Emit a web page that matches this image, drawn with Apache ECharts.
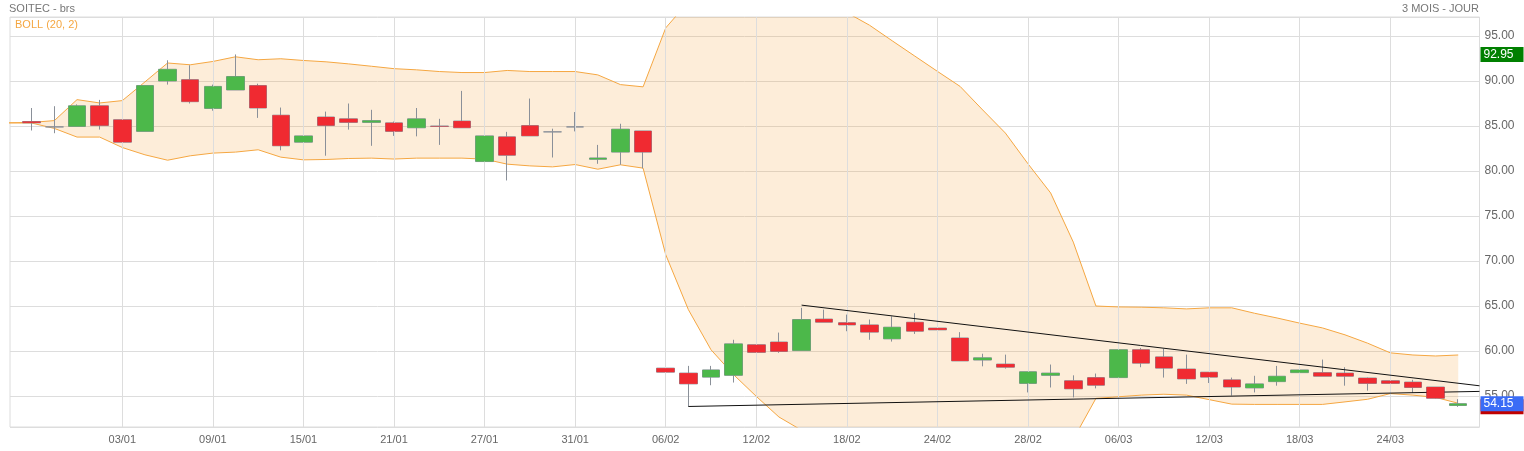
<!DOCTYPE html>
<html><head><meta charset="utf-8">
<script src="https://cdn.jsdelivr.net/npm/echarts@6/dist/echarts.min.js"></script>
<style>html,body{margin:0;padding:0;background:#fff}#c{width:1524px;height:451px}</style>
</head><body><div id="c"></div>
<script>
// Trading sessions (27/12/2024 .. 27/03/2025)
const dates = ['27/12','30/12','31/12','02/01','03/01','06/01','07/01','08/01','09/01','10/01','13/01','14/01','15/01','16/01','17/01','20/01','21/01','22/01','23/01','24/01','27/01','28/01','29/01','30/01','31/01','03/02','04/02','05/02','06/02','07/02','10/02','11/02','12/02','13/02','14/02','17/02','18/02','19/02','20/02','21/02','24/02','25/02','26/02','27/02','28/02','03/03','04/03','05/03','06/03','07/03','10/03','11/03','12/03','13/03','14/03','17/03','18/03','19/03','20/03','21/03','24/03','25/03','26/03','27/03'];
const open = [85.5,84.9,84.95,87.25, 85.7,84.4,90.0,90.15,86.95,89.0,89.5,86.2,83.2,86.0, 85.8,85.4,85.35,84.8,85.0,85.55,81.05,83.8,85.05,84.35, 84.9,81.3,82.1,84.45,58.1,57.55,57.1,57.3,60.7,61.0, 60.05,63.55,63.15,62.9,61.35,63.2,62.55,61.45,59.0,58.55, 56.4,57.3,56.7,57.05,57.05,60.15,59.35,58.0,57.65,56.8, 55.9,56.6,57.6,57.6,57.55,57.0,56.7,56.55,56.0,53.95];
const close = [85.35,84.9,87.25,85.05, 83.2,89.5,91.3,87.7,89.4,90.5,87.0,82.8,83.9,85.05, 85.4,85.6,84.4,85.8,84.95,84.8,83.9,81.75,83.9,84.35, 84.9,81.45,84.65,82.1,57.65,56.35,57.9,60.8,59.85,59.95, 63.5,63.2,62.9,62.1,62.65,62.2,62.35,58.9,59.25,58.2, 57.7,57.55,55.8,56.2,60.15,58.65,58.1,56.9,57.1,56.0, 56.35,57.2,57.9,57.2,57.2,56.4,56.4,55.95,54.75,54.15];
const low = [84.5,84.2,84.95,84.6, 81.9,84.4,89.6,87.5,86.7,89.0,85.9,82.3,81.8,81.7, 84.6,82.8,83.9,83.85,82.9,84.8,77.9,78.95,83.9,81.5, 84.4,80.8,80.7,80.3,55.8,53.84,56.2,56.5,59.15,59.8, 60.05,63.2,62.2,61.25,61.05,61.9,61.8,58.9,58.3,58.05, 55.4,55.95,54.85,55.85,57.05,58.2,57.05,56.35,56.45,55.05, 55.4,56.15,56.9,57.2,56.15,55.6,55.9,55.35,54.7,53.8];
const high = [87.0,87.2,87.4,87.9, 86.15,89.5,92.3,91.75,89.6,92.95,89.7,87.05,85.6,86.6, 87.5,86.8,85.5,87.0,85.8,88.9,83.9,84.35,88.05,84.7, 86.55,82.9,85.25,84.45,62.8,58.35,58.35,61.25,61.05,62.05, 64.8,64.6,64.05,63.5,63.85,64.2,63.5,62.1,59.7,59.6, 57.7,58.5,57.3,57.5,60.9,60.35,60.25,59.6,57.65,57.05, 57.25,58.35,59.4,59.05,58.2,57.05,57.0,56.8,56.0,54.65];
// Bollinger (20, 2): starts one session before the first candle
const bollUpper = [85.35,85.4,85.6,87.93,87.56, 87.82,89.9,92.0,91.8,92.17,92.69,92.36,92.47,92.28,92.13, 91.9,91.64,91.37,91.24,91.05,90.94,90.94,91.17,91.05,91.05, 91.05,90.68,89.6,89.35,95.9,98.8,100.6,101.4,101.3,100.6, 99.6,98.6,97.6,96.2,94.47,92.77,91.07,89.4,86.78,84.22, 80.8,77.56,72.1,65.0,64.9,64.87,64.8,64.68,64.8,64.8, 64.2,63.67,63.1,62.57,61.8,60.87,59.8,59.56,59.45,59.56];
const bollLower = [85.35,85.33,84.73,83.77,83.77, 82.61,81.8,81.2,81.69,81.99,82.1,82.36,81.54,81.24,81.28, 81.39,81.43,81.33,81.43,81.43,81.43,81.32,80.76,80.57,80.46, 80.72,80.2,80.69,80.32,70.7,64.6,60.14,57.37,54.96,52.67, 51.2,50.0,49.2,48.6,48.2,48.0,48.0,48.2,48.6,49.1, 49.6,49.9,50.2,54.74,54.92,55.1,55.2,55.1,54.6,54.1, 54.07,54.07,54.07,54.07,54.35,54.64,55.27,55.1,54.85,54.2];
const tickLabels = ['03/01','09/01','15/01','21/01','27/01','31/01','06/02','12/02','18/02','24/02','28/02','06/03','12/03','18/03','24/03'];
const yTicks = [55,60,65,70,75,80,85,90,95];
// Trend lines: [date, value] -> [date, value]
const resistLine = [['14/02',65.1],['27/03',56.42]];
const supportLine = [['07/02',53.84],['27/03',55.47]];
// Price tags: lowest, last, highest
const tagLow = 53.80, tagLast = 54.15, tagHigh = 92.95;

const X_MIN = -0.96, X_MAX = 63.94, Y_MIN = 51.56, Y_MAX = 97.11;
const FONT = '"Liberation Sans", Arial, sans-serif';

const candleData = dates.map((d,i)=>[i, open[i], close[i], low[i], high[i]]);
const bodyData = dates.map((d,i)=>[i, open[i], close[i], Math.min(open[i],close[i]), Math.max(open[i],close[i])]);
const bx = j => j - 1;
const lowerData = bollLower.map((v,j)=>[bx(j), v]);
const upperData = bollUpper.map((v,j)=>[bx(j), v]);

function extendLine(line){
  const x0 = dates.indexOf(line[0][0]), x1 = dates.indexOf(line[1][0]);
  const y0 = line[0][1], y1 = line[1][1];
  const yEnd = y0 + (y1-y0)*(X_MAX - x0)/(x1-x0);
  return [{coord:[x0,y0]},{coord:[X_MAX,yEnd]}];
}

const tagLabel = (bg) => ({
  show:true, position:'end', distance:1, formatter:(p)=>p.value.toFixed(2),
  color:'#fff', fontSize:12, fontFamily:FONT, backgroundColor:bg,
  padding:[2,0,1,3], lineHeight:12, width:40, align:'left'
});

const option = {
  animation:false,
  textStyle:{fontFamily:FONT},
  title:[
    {text:'SOITEC - brs', left:9, top:3, padding:0, textStyle:{fontSize:11, fontWeight:'normal', color:'#777', fontFamily:FONT}},
    {text:'3 MOIS - JOUR', right:45, top:3, padding:0, textStyle:{fontSize:11, fontWeight:'normal', color:'#777', fontFamily:FONT}},
    {text:'BOLL (20, 2)', left:15, top:19, padding:0, textStyle:{fontSize:11, fontWeight:'normal', color:'#f5a742', fontFamily:FONT}}
  ],
  grid:{left:10, right:44.5, top:17, bottom:24, show:true, borderColor:'#dcdcdc', borderWidth:1, backgroundColor:'transparent'},
  xAxis:{
    type:'value', min:X_MIN, max:X_MAX, minInterval:4, maxInterval:4,
    axisLine:{show:false}, axisTick:{show:false}, splitLine:{show:false},
    axisLabel:{margin:7, fontSize:11, color:'#666', fontFamily:FONT,
      formatter:(v)=>{const i=Math.round(v); if(Math.abs(v-i)>1e-6) return ''; const d=dates[i]; return tickLabels.includes(d)?d:'';}}
  },
  yAxis:{
    type:'value', position:'right', min:Y_MIN, max:Y_MAX, minInterval:5, maxInterval:5, scale:true,
    axisLine:{show:false}, axisTick:{show:false},
    splitLine:{show:true, lineStyle:{color:'#dddddd', width:1}},
    axisLabel:{margin:5, fontSize:12, color:'#666', fontFamily:FONT, padding:[0,0,5,0],
      formatter:(v)=> yTicks.some(t=>Math.abs(t-v)<1e-6) ? v.toFixed(2) : ''}
  },
  series:[
    { // vertical grid lines (invisible carrier line)
      type:'line', data:lowerData, symbol:'none', z:1, silent:true,
      lineStyle:{color:'rgba(0,0,0,0)', width:0},
      markLine:{silent:true, symbol:'none', animation:false, label:{show:false},
        lineStyle:{color:'#dddddd', width:1, type:'solid'},
        data: tickLabels.map(l=>({xAxis: dates.indexOf(l)}))}
    },
    { // band fill between upper and lower
      type:'custom', z:2, silent:true, clip:true, data:upperData, encode:{x:0, y:1},
      renderItem:(params, api)=>{
        if (params.dataIndex !== 0) return null;
        const pts = upperData.map(p=>api.coord(p)).concat(lowerData.slice().reverse().map(p=>api.coord(p)));
        return {type:'polygon', shape:{points:pts}, style:{fill:'rgba(247,165,64,0.2)', stroke:null}};
      }
    },
    { type:'line', data:upperData, symbol:'none', z:3, silent:true, lineStyle:{color:'#f5a742', width:1} },
    { type:'line', data:lowerData, symbol:'none', z:3, silent:true, lineStyle:{color:'#f5a742', width:1} },
    { // wicks + outline
      type:'candlestick', data:candleData, encode:{x:0, y:[1,2,3,4]}, barWidth:18, z:4, silent:true,
      itemStyle:{color:'rgba(0,0,0,0)', color0:'rgba(0,0,0,0)', borderColor:'#8a9099', borderColor0:'#8a9099', borderColorDoji:'#8a9099', borderWidth:1},
      markLine:{silent:true, symbol:'none', animation:false,
        lineStyle:{color:'rgba(0,0,0,0)', width:1},
        data:[
          {yAxis:tagLow, label:tagLabel('#c00000')},
          {yAxis:tagLast, label:tagLabel('#3b6cf6')},
          {yAxis:tagHigh, label:tagLabel('#008000')}
        ]}
    },
    { // bodies
      type:'candlestick', data:bodyData, encode:{x:0, y:[1,2,3,4]}, barWidth:18, z:5, silent:true,
      itemStyle:{color:'#4cb84a', color0:'#f02a31', borderColor:'#4cb84a', borderColor0:'#f02a31', borderColorDoji:'#8a9099', borderWidth:0},
      markLine:{silent:true, symbol:'none', animation:false, label:{show:false},
        lineStyle:{color:'#111', width:1, type:'solid'},
        data:[extendLine(resistLine), extendLine(supportLine)]}
    }
  ]
};
const chart = echarts.init(document.getElementById('c'));
chart.setOption(option);
</script></body></html>
